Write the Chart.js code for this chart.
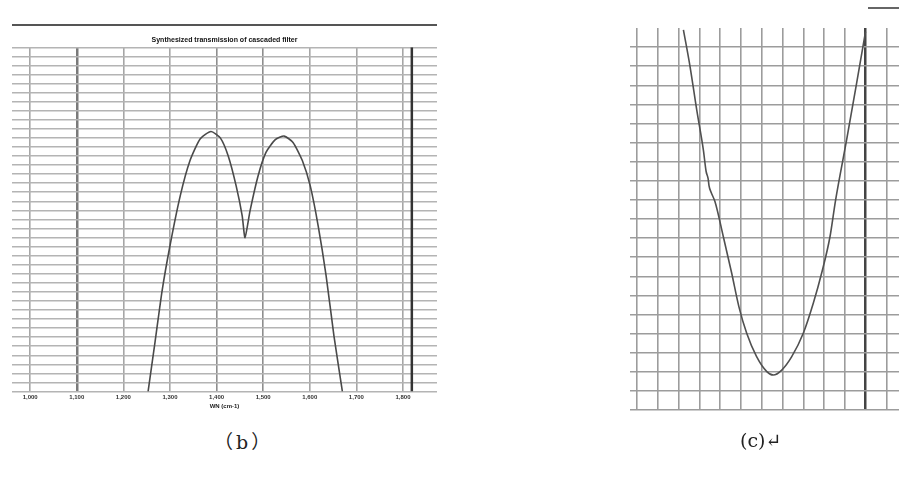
<!DOCTYPE html>
<html>
<head>
<meta charset="utf-8">
<script src="https://cdn.jsdelivr.net/npm/chart.js@4.4.1/dist/chart.umd.min.js"></script>
<style>
  html, body { margin: 0; padding: 0; background: #fff; width: 899px; height: 484px; overflow: hidden; }
  .box { position: absolute; }
  #topRule { left: 12px; top: 24px; width: 425px; border-top: 2px solid #555; }
  #edgeRule { left: 868px; top: 7px; width: 31px; border-top: 2px solid #666; }
  .cap { position: absolute; font-family: "DejaVu Serif", "Noto Sans CJK SC", serif; font-size: 19px; color: #222; }
</style>
</head>
<body>
<div class="box" id="topRule"></div>
<div class="box" id="edgeRule"></div>
<div class="box" style="left:0;top:0;width:450px;height:420px;"><canvas id="chartB"></canvas></div>
<div class="box" style="left:620px;top:0;width:279px;height:430px;"><canvas id="chartC"></canvas></div>
<div class="cap" style="left:214px;top:427px;letter-spacing:3px;">（b）</div>
<div class="cap" style="left:740px;top:429px;">(c)↵</div>
<script>
// (b) double-peak curve
const bWavenumbers = [1253, 1268, 1283, 1300, 1322, 1343, 1365, 1388, 1408, 1425, 1442, 1455, 1461,
  1472, 1489, 1506, 1526, 1545, 1564, 1584, 1601, 1618, 1635, 1652, 1670];
const bIntensity = [0, 5.5, 11.1, 16.1, 21.6, 25.5, 27.9, 28.7, 28.0, 26.0, 22.7, 19.4, 17.0,
  20.0, 23.8, 26.4, 27.8, 28.2, 27.5, 25.5, 22.7, 18.3, 12.8, 6.1, 0];
const bTickValues = [1000, 1100, 1200, 1300, 1400, 1500, 1600, 1700, 1800];
const bMarkerWn = 1819;

// (c) parabola-like curve, in grid units
const cX = [2.23, 2.55, 2.87, 3.19, 3.32, 3.42, 3.46, 3.56, 3.75, 4.15, 4.55, 4.9, 5.27, 5.75,
  6.24, 6.55, 6.96, 7.44, 8.0, 8.48, 8.88, 9.28, 9.55, 10.08, 10.56, 10.99];
const cY = [19.9, 17.97, 15.71, 13.61, 12.5, 12.1, 11.75, 11.4, 10.9, 9.07, 7.17, 5.4, 4.03, 2.79,
  2.01, 1.83, 2.09, 2.79, 4.03, 5.6, 7.17, 9.07, 10.99, 14.14, 17.1, 19.81];
const cGridX = [0, 1, 2, 3, 4, 5, 6, 7, 8, 9, 10, 11, 12];

const fmt = v => String(v).replace(/(\d)(\d{3})$/, '$1,$2');

new Chart(document.getElementById('chartB'), {
  type: 'line',
  data: {
    datasets: [{
      data: bWavenumbers.map((x, i) => ({ x: x, y: bIntensity[i] })),
      borderColor: '#4a4a4a',
      borderWidth: 1.6,
      pointRadius: 0,
      tension: 0.2
    }, {
      data: [{ x: bMarkerWn, y: 0 }, { x: bMarkerWn, y: 38 }],
      borderColor: '#333',
      borderWidth: 2.5,
      pointRadius: 0
    }]
  },
  options: {
    responsive: true,
    maintainAspectRatio: false,
    animation: false,
    layout: { padding: { left: 12, right: 13, top: 0, bottom: 10 } },
    plugins: {
      legend: { display: false },
      tooltip: { enabled: false },
      title: {
        display: true,
        text: 'Synthesized transmission of cascaded filter',
        color: '#111',
        font: { family: 'Liberation Sans', size: 7, weight: 'bold' },
        padding: { top: 35.8, bottom: 3.1 }
      }
    },
    scales: {
      x: {
        type: 'linear',
        min: 961,
        max: 1873,
        afterBuildTicks: s => { s.ticks = bTickValues.map(v => ({ value: v })); },
        border: { display: false },
        grid: {
          drawTicks: false,
          color: c => (c.index === 1 ? '#7a7a7a' : (c.index === 4 || c.index === 5 ? '#8e8e8e' : '#a6a6a6')),
          lineWidth: c => (c.index === 1 ? 2.5 : 1.6)
        },
        ticks: {
          padding: 2,
          color: '#333',
          font: { family: 'Liberation Sans', size: 6, weight: 'bold' },
          callback: v => fmt(v)
        },
        title: {
          display: true,
          text: 'WN (cm-1)',
          color: '#222',
          padding: { top: 0, bottom: 0 },
          font: { family: 'Liberation Sans', size: 6, weight: 'bold' }
        }
      },
      y: {
        min: 0,
        max: 38,
        border: { display: false },
        grid: { drawTicks: false, color: '#b4b4b4', lineWidth: 1.6 },
        ticks: { display: false, stepSize: 1 }
      }
    }
  }
});

new Chart(document.getElementById('chartC'), {
  type: 'line',
  data: {
    datasets: [{
      data: cX.map((x, i) => ({ x: x, y: cY[i] })),
      borderColor: '#505050',
      borderWidth: 1.6,
      pointRadius: 0,
      cubicInterpolationMode: 'monotone'
    }]
  },
  options: {
    responsive: true,
    maintainAspectRatio: false,
    animation: false,
    layout: { padding: { left: 10, right: 0, top: 28, bottom: 20 } },
    plugins: { legend: { display: false }, tooltip: { enabled: false } },
    scales: {
      x: {
        type: 'linear',
        min: -0.34,
        max: 12.6,
        afterBuildTicks: s => { s.ticks = cGridX.map(v => ({ value: v })); },
        border: { display: false },
        grid: {
          drawTicks: false,
          color: c => (c.index === 11 ? '#444' : '#9c9c9c'),
          lineWidth: c => (c.index === 11 ? 2.5 : 1.6)
        },
        ticks: { display: false }
      },
      y: {
        min: 0,
        max: 20,
        border: { display: false },
        grid: {
          drawTicks: false,
          color: c => (c.index === 20 ? 'rgba(0,0,0,0)' : '#9c9c9c'),
          lineWidth: 1.6
        },
        ticks: { display: false, stepSize: 1 }
      }
    }
  }
});
</script>
</body>
</html>
